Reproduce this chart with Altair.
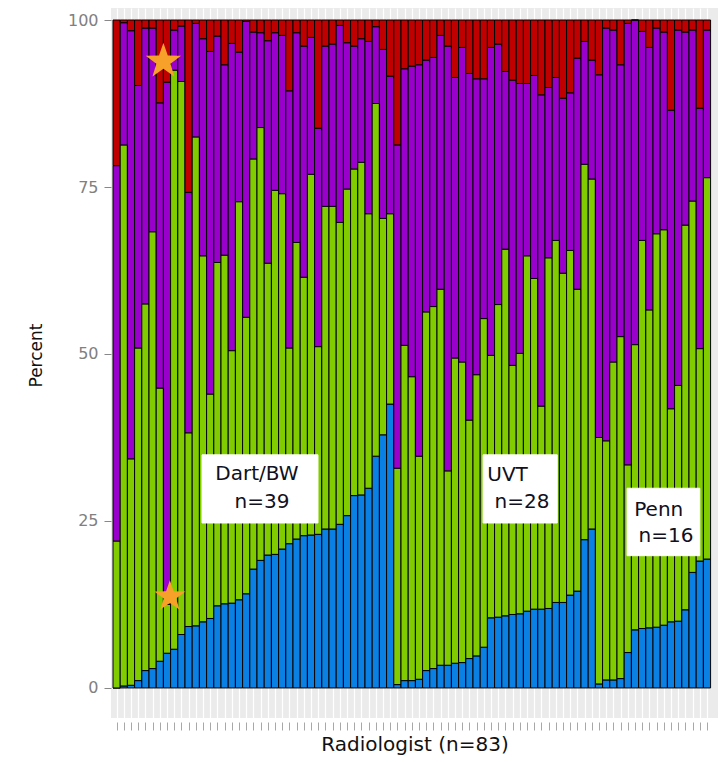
import math
import altair as alt
import pandas as pd

# ---------------- data ----------------
radiologist = list(range(1, 84))

# upper boundary of the blue segment (percent)
blue_top = [
    0.0, 0.3, 0.4, 1.1, 2.6, 2.9, 4.0, 5.2, 5.8, 8.0,
    9.2, 9.3, 9.9, 10.4, 12.3, 12.6, 12.7, 13.2, 14.1, 17.8,
    19.1, 19.9, 20.0, 20.8, 21.6, 22.3, 22.8, 22.9, 23.0, 23.8,
    23.8, 24.5, 25.8, 28.8, 28.9, 29.9, 34.7, 37.9, 42.5,
    0.5, 1.1, 1.1, 1.3, 2.6, 2.9, 3.4, 3.4, 3.7, 3.8,
    4.4, 4.8, 6.1, 10.5, 10.6, 10.8, 11.0, 11.1, 11.5, 11.8,
    11.8, 11.9, 12.8, 12.8, 13.9, 14.5, 22.2, 23.8,
    0.6, 1.2, 1.2, 1.4, 5.3, 8.7, 8.9, 9.0, 9.1, 9.4,
    9.9, 10.0, 11.7, 17.3, 19.0, 19.3,
]
# upper boundary of the green segment (percent)
green_top = [
    22.0, 81.3, 34.3, 50.9, 57.5, 68.3, 44.9, 12.5, 92.5, 90.8,
    38.2, 82.5, 64.7, 44.0, 63.7, 64.8, 50.5, 72.8, 55.5, 79.2,
    83.9, 63.6, 74.5, 74.0, 50.9, 66.7, 61.5, 76.9, 51.1, 72.1,
    72.1, 69.7, 74.7, 77.7, 78.7, 71.0, 87.5, 70.3, 71.0,
    32.9, 51.3, 46.6, 34.7, 56.3, 57.1, 59.7, 32.5, 49.4, 48.8,
    40.1, 46.9, 55.3, 49.8, 57.4, 65.7, 48.3, 50.1, 64.7, 61.3,
    42.2, 64.4, 67.0, 62.1, 65.5, 59.7, 78.4, 76.2,
    37.5, 37.0, 48.8, 52.6, 33.4, 51.4, 67.0, 56.6, 68.0, 68.6,
    41.8, 45.3, 69.3, 72.9, 50.8, 76.4,
]
# upper boundary of the purple segment (percent); red fills the rest to 100
purple_top = [
    78.2, 99.6, 98.4, 90.2, 98.8, 98.8, 87.6, 90.7, 98.5, 99.1,
    74.2, 99.5, 97.2, 95.3, 97.6, 93.3, 96.5, 95.2, 99.8, 98.2,
    98.1, 96.9, 98.1, 97.7, 89.4, 98.1, 96.1, 97.4, 83.8, 96.1,
    96.4, 99.2, 96.6, 96.1, 97.2, 96.8, 99.0, 95.6, 91.6,
    81.3, 92.7, 93.1, 93.3, 94.0, 94.4, 97.7, 96.1, 91.4, 95.9,
    92.0, 91.2, 91.2, 95.9, 96.4, 92.3, 91.0, 90.5, 90.5, 91.7,
    88.8, 89.9, 91.4, 88.3, 89.1, 94.3, 96.8, 94.0,
    91.8, 98.8, 98.5, 93.3, 99.5, 100.0, 98.3, 95.9, 98.8, 98.2,
    86.5, 98.5, 98.2, 98.5, 86.8, 98.5,
]

categories = ["Blue", "Green", "Purple", "Red"]
colors = ["#0A80E4", "#80CC00", "#9A00CC", "#C00000"]

group_labels = ["Dart/BW", "UVT", "Penn"]
group_n = [39, 28, 16]

# highlighted radiologists (stars)
star_x = [7.5, 8.4]
star_y = [93.8, 13.7]

# ---------------- build table ----------------
rows = []
for r, b, g, p in zip(radiologist, blue_top, green_top, purple_top):
    bounds = [0.0, b, g, p, 100.0]
    for k, c in enumerate(categories):
        rows.append({"radiologist": r, "category": c, "order": k,
                     "y0": bounds[k], "y1": bounds[k + 1]})
df = pd.DataFrame(rows)

FONT = "DejaVu Sans"
x_scale = alt.Scale(domain=[0.222, 84.53], nice=False, zero=False)
y_scale = alt.Scale(domain=[-4.5, 101.8], nice=False, zero=False)

x_axis = alt.Axis(values=radiologist, labels=False, ticks=True,
                  tickColor="#A8A8A8", tickSize=8, offset=4,
                  domain=False, grid=True, gridColor="white",
                  gridWidth=1.2, title="Radiologist (n=83)",
                  titleFont=FONT, titleFontSize=20,
                  titleFontWeight="normal", titleColor="#111111",
                  titlePadding=4)
y_axis = alt.Axis(values=[0, 25, 50, 75, 100], grid=False,
                  domain=False, tickColor="#888888", tickSize=7,
                  labelColor="#808080", labelFont=FONT,
                  labelFontSize=16, labelPadding=6,
                  title="Percent", titleFont=FONT, titleFontSize=17,
                  titleFontWeight="normal", titleColor="#111111",
                  titleX=-66, titleY=347)

bars = alt.Chart(df).transform_calculate(
    xa="datum.radiologist - 0.5", xb="datum.radiologist + 0.5"
).mark_rect(stroke="black", strokeWidth=1).encode(
    x=alt.X("xa:Q", scale=x_scale, axis=x_axis),
    x2="xb:Q",
    y=alt.Y("y0:Q", scale=y_scale, axis=y_axis),
    y2="y1:Q",
    color=alt.Color("category:N",
                    scale=alt.Scale(domain=categories, range=colors),
                    legend=None),
)

# white label boxes
box_df = pd.DataFrame({
    "label": group_labels,
    "bx0": [12.86, 51.9, 71.9],
    "bx1": [28.97, 62.2, 82.0],
    "by0": [24.7, 24.7, 19.8],
    "by1": [34.9, 34.9, 29.9],
})
boxes = alt.Chart(box_df).mark_rect(fill="white", stroke="white").encode(
    x=alt.X("bx0:Q", scale=x_scale, axis=x_axis),
    x2="bx1:Q",
    y=alt.Y("by0:Q", scale=y_scale, axis=y_axis),
    y2="by1:Q",
)

text_rows = []
line_pos = [((20.5, 32.0), (21.2, 27.8)),
            ((55.3, 31.9), (57.3, 27.8)),
            ((76.3, 26.6), (77.3, 22.8))]
for lab, n, ((x1, y1), (x2, y2)) in zip(group_labels, group_n, line_pos):
    text_rows.append({"tx": x1, "ty": y1, "txt": lab})
    text_rows.append({"tx": x2, "ty": y2, "txt": f"n={n}"})
text_df = pd.DataFrame(text_rows)
texts = alt.Chart(text_df).mark_text(
    font=FONT, fontSize=20, color="#101020", align="center", baseline="middle"
).encode(
    x=alt.X("tx:Q", scale=x_scale, axis=x_axis),
    y=alt.Y("ty:Q", scale=y_scale, axis=y_axis),
    text="txt:N",
)

# five-pointed star shape (unit radius)
pts = []
for k in range(10):
    rad = 1.0 if k % 2 == 0 else 0.40
    a = math.radians(-90 + 36 * k)
    pts.append(f"{rad * math.cos(a):.4f},{rad * math.sin(a):.4f}")
star_path = "M" + " L".join(pts) + " Z"

star_df = pd.DataFrame({"sx": star_x, "sy": star_y, "ss": [1380, 1060]})
stars = alt.Chart(star_df).mark_point(
    shape=star_path, filled=True, fill="#F7A12B", strokeWidth=0, opacity=1
).encode(
    x=alt.X("sx:Q", scale=x_scale, axis=x_axis),
    y=alt.Y("sy:Q", scale=y_scale, axis=y_axis),
    size=alt.Size("ss:Q", scale=None, legend=None),
)

chart = alt.layer(bars, boxes, texts, stars).properties(
    width=607, height=710,
    autosize=alt.AutoSizeParams(type="none"),
    padding={"left": 103, "top": 0, "right": 2, "bottom": 38},
).configure_view(fill="#EBEBEB", strokeWidth=0)

chart.save("out.html", embed_options={"renderer": "svg", "actions": False})
